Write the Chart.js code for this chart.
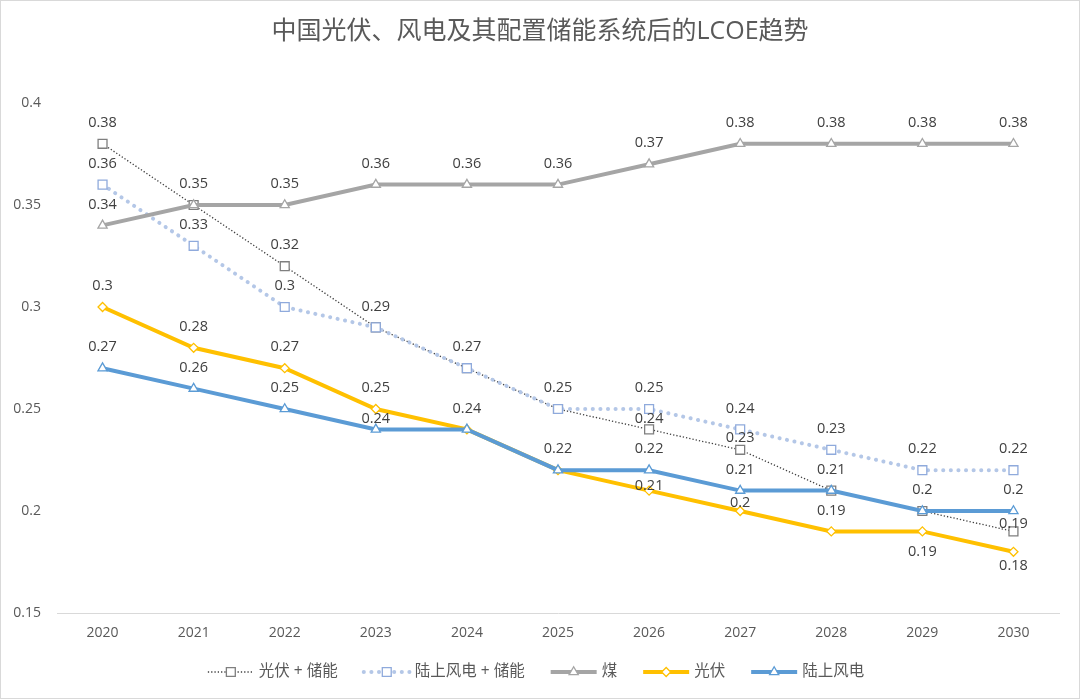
<!DOCTYPE html>
<html>
<head>
  <meta charset="utf-8">
  <title>LCOE趋势</title>
  <script src="https://cdn.jsdelivr.net/npm/chart.js"></script>
  <style>
    body { margin: 0; background: #fff; }
    canvas { display: block; }
  </style>
</head>
<body>
<canvas id="lcoeChart" width="1080" height="699"></canvas>
<script>
  // 数据
  const years = ['2020', '2021', '2022', '2023', '2024', '2025', '2026', '2027', '2028', '2029', '2030'];
  const pvStorage   = [0.38, 0.35, 0.32, 0.29, 0.27, 0.25, 0.24, 0.23, 0.21, 0.20, 0.19];
  const windStorage = [0.36, 0.33, 0.30, 0.29, 0.27, 0.25, 0.25, 0.24, 0.23, 0.22, 0.22];
  const coal        = [0.34, 0.35, 0.35, 0.36, 0.36, 0.36, 0.37, 0.38, 0.38, 0.38, 0.38];
  const pv          = [0.30, 0.28, 0.27, 0.25, 0.24, 0.22, 0.21, 0.20, 0.19, 0.19, 0.18];
  const wind        = [0.27, 0.26, 0.25, 0.24, 0.24, 0.22, 0.22, 0.21, 0.21, 0.20, 0.20];
  const seriesNames = ['光伏 + 储能', '陆上风电 + 储能', '煤', '光伏', '陆上风电'];
  const yMin = 0.15, yMax = 0.4, yStep = 0.05;

  const FONT = '"Open Sans", "Noto Sans CJK SC", sans-serif';

  // label shift (px, negative = above), exceptions only
  const shifts = [
    { 6: -11, 7: -12, 10: -8 },
    {},
    {},
    { 6: -5, 7: -8, 9: 20, 10: 14 },
    { 3: -11 }
  ];

  function series(i, values, color, opts) {
    return Object.assign({
      label: seriesNames[i],
      data: values,
      borderColor: color,
      backgroundColor: color,
      pointBackgroundColor: '#ffffff',
      pointBorderColor: color,
      pointBorderWidth: 1.3,
      pointHoverRadius: 5,
      tension: 0,
      order: 5 - i
    }, opts);
  }

  const datasets = [
    series(0, pvStorage, '#404040', { borderWidth: 1.3, borderDash: [1.3, 2], pointStyle: 'rect', pointRadius: 6.3, pointBorderColor: '#7f7f7f' }),
    series(1, windStorage, '#b4c7e7', { borderWidth: 4, borderDash: [0.1, 7.5], borderCapStyle: 'round', pointStyle: 'rect', pointRadius: 6.3, pointBorderColor: '#8faadc' }),
    series(2, coal, '#a5a5a5', { borderWidth: 4, pointStyle: 'triangle', pointRadius: 5.3 }),
    series(3, pv, '#ffc000', { borderWidth: 4, pointStyle: 'rectRot', pointRadius: 4.5 }),
    series(4, wind, '#5b9bd5', { borderWidth: 4, pointStyle: 'triangle', pointRadius: 5.3 })
  ];

  // title, data labels, legend, border
  const decor = {
    id: 'decor',
    afterDatasetsDraw(chart) {
      const ctx = chart.ctx;
      ctx.save();
      ctx.font = '14.5px ' + FONT;
      ctx.fillStyle = '#404040';
      ctx.textAlign = 'center';
      ctx.textBaseline = 'middle';
      const done = new Set();
      chart.data.datasets.forEach((ds, i) => {
        const meta = chart.getDatasetMeta(i);
        meta.data.forEach((pt, j) => {
          const dy = shifts[i][j] !== undefined ? shifts[i][j] : -21;
          const txt = String(+ds.data[j].toFixed(2));
          const key = txt + '@' + Math.round(pt.x) + ',' + Math.round(pt.y + dy);
          if (done.has(key)) return;
          done.add(key);
          ctx.fillText(txt, pt.x, pt.y + dy);
        });
      });
      ctx.restore();
    },
    afterDraw(chart) {
      const ctx = chart.ctx;
      ctx.save();
      // title
      ctx.font = '25px ' + FONT;
      ctx.fillStyle = '#595959';
      ctx.textAlign = 'center';
      ctx.textBaseline = 'middle';
      ctx.fillText('中国光伏、风电及其配置储能系统后的LCOE趋势', chart.width / 2, 32);

      // legend
      ctx.font = '15.5px ' + FONT;
      const lineLen = 46, gap = 5, spacing = 26, ly = 672;
      const widths = chart.data.datasets.map(ds => ctx.measureText(ds.label).width);
      let total = 0;
      widths.forEach(w => total += lineLen + gap + w);
      total += spacing * (widths.length - 1);
      let x = chart.width / 2 - total / 2 - 4;
      chart.data.datasets.forEach((ds, i) => {
        ctx.save();
        ctx.strokeStyle = ds.borderColor;
        ctx.lineWidth = ds.borderWidth;
        ctx.lineCap = ds.borderCapStyle || 'butt';
        ctx.setLineDash(ds.borderDash || []);
        ctx.beginPath();
        ctx.moveTo(x, ly);
        ctx.lineTo(x + lineLen, ly);
        ctx.stroke();
        ctx.setLineDash([]);
        ctx.fillStyle = '#ffffff';
        ctx.strokeStyle = ds.pointBorderColor;
        ctx.lineWidth = ds.pointBorderWidth;
        Chart.helpers.drawPoint(ctx, { pointStyle: ds.pointStyle, radius: ds.pointRadius, rotation: 0, borderWidth: ds.pointBorderWidth }, x + lineLen / 2, ly);
        ctx.restore();
        ctx.fillStyle = '#595959';
        ctx.textAlign = 'left';
        ctx.textBaseline = 'middle';
        ctx.fillText(ds.label, x + lineLen + gap, ly);
        x += lineLen + gap + widths[i] + spacing;
      });

      // chart border
      ctx.strokeStyle = '#d9d9d9';
      ctx.lineWidth = 1;
      ctx.strokeRect(0.5, 0.5, chart.width - 1, chart.height - 1);
      ctx.restore();
    }
  };

  new Chart(document.getElementById('lcoeChart').getContext('2d'), {
    type: 'line',
    data: { labels: years, datasets: datasets },
    options: {
      responsive: false,
      animation: false,
      layout: { padding: { top: 103, right: 21, bottom: 46, left: 0 } },
      plugins: {
        legend: { display: false },
        title: { display: false },
        tooltip: { enabled: false }
      },
      scales: {
        x: {
          offset: true,
          grid: { display: false, drawTicks: false },
          border: { display: true, color: '#d9d9d9', width: 1 },
          ticks: { color: '#595959', font: { size: 14, family: FONT }, padding: 12 },
          afterFit: s => { s.height = 40; }
        },
        y: {
          min: yMin,
          max: yMax,
          grid: { display: false, drawTicks: false },
          border: { display: false },
          ticks: {
            stepSize: yStep,
            color: '#595959',
            font: { size: 14, family: FONT },
            padding: 16,
            callback: v => String(+v.toFixed(2))
          },
          afterFit: s => { s.width = 57; }
        }
      }
    },
    plugins: [decor]
  });
</script>
</body>
</html>
